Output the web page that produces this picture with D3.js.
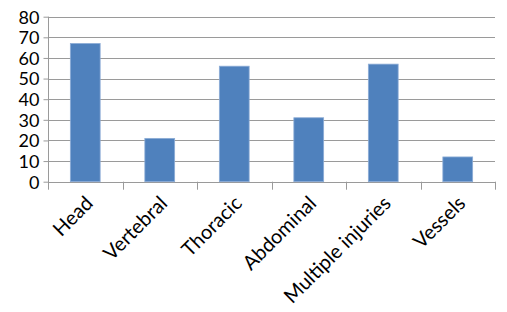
<!DOCTYPE html>
<html>
<head>
<meta charset="utf-8">
<script src="https://cdn.jsdelivr.net/npm/d3@7"></script>
<style>
  body { margin: 0; background: #fff; }
  text { font-family: Lato, "Open Sans", sans-serif; fill: #000; }
</style>
</head>
<body>
<svg></svg>
<script>
var width = 507;
var height = 312;

var categories = ["Head", "Vertebral", "Thoracic", "Abdominal", "Multiple injuries", "Vessels"];
var values = [67, 21, 56, 31, 57, 12];
var yTicks = [0, 10, 20, 30, 40, 50, 60, 70, 80];

var plotLeft = 48, plotRight = 495, plotTop = 16.7, plotBottom = 181.7;

var svg = d3.select('svg')
  .attr('width', width)
  .attr('height', height);

var xScale = d3.scaleBand()
  .domain(categories)
  .range([plotLeft, plotRight])
  .paddingInner(0.6)
  .paddingOuter(0.3);

var yScale = d3.scaleLinear()
  .domain([0, 80])
  .range([plotBottom, plotTop]);

// gridlines
svg.append('g')
  .selectAll('line')
  .data(yTicks)
  .enter()
  .append('line')
  .attr('x1', plotLeft)
  .attr('x2', plotRight)
  .attr('y1', d => Math.round(yScale(d)) + 0.5)
  .attr('y2', d => Math.round(yScale(d)) + 0.5)
  .attr('stroke', '#9a9a9a')
  .attr('stroke-width', 1.2);

// y axis
var yAxis = svg.append('g')
  .attr('transform', 'translate(' + (plotLeft + 0.5) + ',0)')
  .call(d3.axisLeft(yScale).tickValues(yTicks).tickSize(5).tickPadding(4).tickFormat(d3.format('d')));
yAxis.select('.domain').attr('stroke', '#9a9a9a').attr('d', 'M0,' + plotTop + 'V' + (plotBottom + 0.5));
yAxis.selectAll('.tick line').attr('stroke', '#9a9a9a');
yAxis.selectAll('.tick text')
  .attr('font-size', 18)
  .attr('font-family', 'Lato, sans-serif')
  .attr('fill', '#000')
  .attr('dy', '0.35em');

// x axis ticks at category boundaries
var bounds = d3.range(categories.length + 1).map(i => plotLeft + i * (plotRight - plotLeft) / categories.length);
svg.append('g')
  .selectAll('line')
  .data(bounds)
  .enter()
  .append('line')
  .attr('x1', d => Math.round(d) + 0.5)
  .attr('x2', d => Math.round(d) + 0.5)
  .attr('y1', plotBottom)
  .attr('y2', plotBottom + 8)
  .attr('stroke', '#9a9a9a');

// bars
svg.append('g')
  .selectAll('rect')
  .data(values)
  .enter()
  .append('rect')
  .attr('x', (d, i) => xScale(categories[i]))
  .attr('y', d => yScale(d))
  .attr('width', xScale.bandwidth())
  .attr('height', d => yScale(0) - yScale(d))
  .attr('fill', '#4f81bd')
  .attr('stroke', '#8cacd6')
  .attr('stroke-width', 0.8);

// x labels
svg.append('g')
  .selectAll('text')
  .data(categories)
  .enter()
  .append('text')
  .attr('transform', d => 'translate(' + (xScale(d) + xScale.bandwidth() / 2 - 1) + ',' + (plotBottom + 13) + ') rotate(-45)')
  .attr('text-anchor', 'end')
  .attr('dy', '0.7em')
  .attr('font-size', 20)
  .text(d => d);
</script>
</body>
</html>
